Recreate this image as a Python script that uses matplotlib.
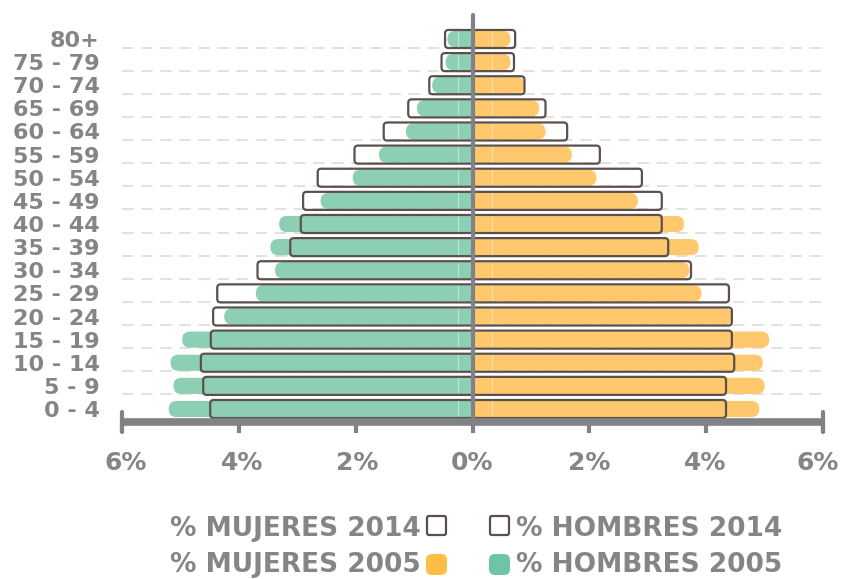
import matplotlib
matplotlib.use('Agg')
import matplotlib.pyplot as plt
import matplotlib.transforms as mtransforms
from matplotlib.patches import FancyBboxPatch, Rectangle

# age groups, bottom to top
ages = ['0 - 4', '5 - 9', '10 - 14', '15 - 19', '20 - 24', '25 - 29', '30 - 34',
        '35 - 39', '40 - 44', '45 - 49', '50 - 54', '55 - 59', '60 - 64',
        '65 - 69', '70 - 74', '75 - 79', '80+']

# % of population (left side = hombres, right side = mujeres)
hombres_2005 = [5.20, 5.12, 5.17, 4.97, 4.25, 3.71, 3.38, 3.46, 3.31, 2.60,
                2.05, 1.60, 1.14, 0.95, 0.69, 0.46, 0.43]
hombres_2014 = [4.49, 4.61, 4.65, 4.48, 4.44, 4.37, 3.68, 3.12, 2.94, 2.90,
                2.65, 2.02, 1.52, 1.10, 0.74, 0.53, 0.47]
mujeres_2005 = [4.91, 5.00, 4.97, 5.08, 4.45, 3.92, 3.71, 3.87, 3.62, 2.83,
                2.12, 1.70, 1.25, 1.14, 0.90, 0.65, 0.65]
mujeres_2014 = [4.34, 4.34, 4.48, 4.44, 4.44, 4.39, 3.74, 3.35, 3.24, 3.24,
                2.90, 2.18, 1.62, 1.25, 0.89, 0.71, 0.73]

xticks = [-6, -4, -2, 0, 2, 4, 6]
xtick_labels = ['6%', '4%', '2%', '0%', '2%', '4%', '6%']

GREEN = '#8dcfb5'
ORANGE = '#ffc86c'
GREEN_LEG = '#6dc5a6'
ORANGE_LEG = '#ffbd45'
OUTLINE = '#5b504c'
GREY = '#818285'
TEXT = '#858585'
GRID = '#d8d8d8'

plt.rcParams['font.family'] = ['DejaVu Sans']
plt.rcParams['font.weight'] = 'bold'

W, H = 844, 579
fig = plt.figure(figsize=(W / 100, H / 100), dpi=100)
ax = fig.add_axes([122 / W, (H - 422) / H, 701 / W, (422 - 12.7) / H])
ax.set_xlim(-6, 6)
ax.set_ylim(-0.562, 17.137)
for s in ax.spines.values():
    s.set_visible(False)

# data units per pixel -> aspect for rounded boxes
asp = (1 / 23.125) / (12 / 701)

clip_left = Rectangle((-10, -2), 10, 25, transform=ax.transData)
clip_right = Rectangle((0, -2), 10, 25, transform=ax.transData)

def add_box(x0, w, y, h, side, **kw):
    p = FancyBboxPatch((x0, y - h / 2), w, h, mutation_aspect=asp, **kw)
    ax.add_patch(p)
    p.set_clip_path(clip_left if side < 0 else clip_right)

# dashed gridlines under each row
for i in range(1, len(ages)):
    ax.plot([-6, 6], [i - 0.37, i - 0.37], color=GRID, lw=1.1,
            ls=(0, (7.5, 5)), zorder=1)

for i in range(len(ages)):
    # 2005 filled bars, rounded outer end
    add_box(-hombres_2005[i], hombres_2005[i] + 0.6, i, 0.70, -1,
            boxstyle='round,pad=0,rounding_size=0.136', fc=GREEN, ec='none', zorder=2)
    add_box(-0.6, mujeres_2005[i] + 0.6, i, 0.70, 1,
            boxstyle='round,pad=0,rounding_size=0.136', fc=ORANGE, ec='none', zorder=2)
    # 2014 outlined bars
    add_box(-hombres_2014[i], hombres_2014[i] + 0.3, i, 0.78, -1,
            boxstyle='round,pad=0,rounding_size=0.06', fc='none', ec=OUTLINE,
            lw=1.6, zorder=4)
    add_box(-0.3, mujeres_2014[i] + 0.3, i, 0.78, 1,
            boxstyle='round,pad=0,rounding_size=0.06', fc='none', ec=OUTLINE,
            lw=1.6, zorder=4)

# faint light lines through the bars
ax.axvline(-0.24, color='white', lw=0.8, alpha=0.45, zorder=3)
ax.axvline(0.34, color='white', lw=0.8, alpha=0.45, zorder=3)

# centre axis
ax.plot([0, 0], [-0.562, 17.05], color=GREY, lw=3, solid_capstyle='round',
        zorder=6, clip_on=False)
# bottom axis bar with end ticks
y0 = ax.get_ylim()[0]
ax.plot([-6, 6], [y0, y0], color=GREY, lw=5.5, solid_capstyle='butt',
        zorder=6, clip_on=False)
for xe in (-6, 6):
    ax.plot([xe, xe], [y0 - 0.45, y0 + 0.42], color=GREY, lw=3,
            solid_capstyle='round', zorder=6, clip_on=False)

ax.set_xticks(xticks, xtick_labels)
ax.tick_params(axis='x', length=8, width=3, color=GREY, direction='out',
               pad=13, labelsize=18, labelcolor=TEXT)
# small horizontal nudges of the tick labels, as in the original
nudges = [4, 3, 2, 0, 0, -1, -5]
for lbl, dx in zip(ax.get_xticklabels(), nudges):
    off = mtransforms.ScaledTranslation(dx / 100, 0, fig.dpi_scale_trans)
    lbl.set_transform(lbl.get_transform() + off)
ax.set_yticks(range(len(ages)), ages)
ax.tick_params(axis='y', length=0, pad=16, labelsize=16, labelcolor=TEXT)

# legend, laid out by hand
def px(x, y):
    return x / W, 1 - y / H

fs = 19
fig.text(*px(421, 536), '% MUJERES 2014', ha='right', va='baseline',
         fontsize=fs, color=TEXT)
fig.text(*px(421, 572.5), '% MUJERES 2005', ha='right', va='baseline',
         fontsize=fs, color=TEXT)
fig.text(*px(516, 536), '% HOMBRES 2014', ha='left', va='baseline',
         fontsize=fs, color=TEXT)
fig.text(*px(516, 572.5), '% HOMBRES 2005', ha='left', va='baseline',
         fontsize=fs, color=TEXT)

def leg_box(x, y, w, h, r, **kw):
    p = FancyBboxPatch((x / 100, (H - y - h) / 100), w / 100, h / 100,
                       boxstyle=f'round,pad=0,rounding_size={r / 100}',
                       transform=fig.dpi_scale_trans, **kw)
    fig.add_artist(p)

leg_box(427, 516, 19, 19, 2, fc='none', ec=OUTLINE, lw=1.6)
leg_box(490, 516, 19, 19, 2, fc='none', ec=OUTLINE, lw=1.6)
leg_box(426, 554, 21, 21, 6, fc=ORANGE_LEG, ec='none')
leg_box(489, 554, 21, 21, 6, fc=GREEN_LEG, ec='none')

fig.savefig('out.png', dpi=100)
